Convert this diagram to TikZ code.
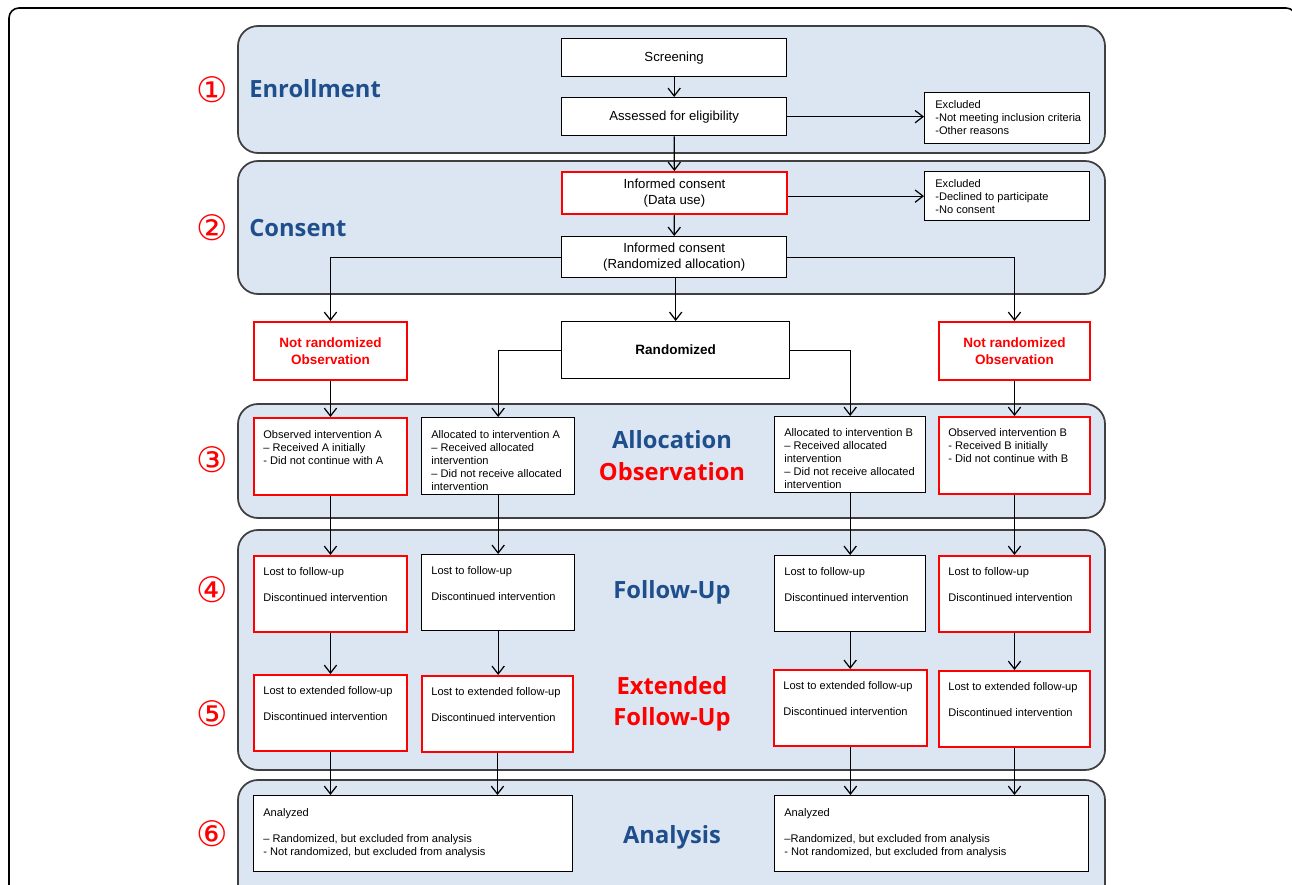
\documentclass[tikz,border=0pt]{standalone}
\usepackage{fontspec}
\setmainfont{Liberation Sans}
\newfontfamily\stagefont{Open Sans}
\newfontfamily\circfont{DejaVu Sans}
\usetikzlibrary{arrows.meta}
\definecolor{panelfill}{HTML}{DCE6F2}
\definecolor{paneldraw}{HTML}{404040}
\definecolor{stageblue}{HTML}{1F4E8C}
\definecolor{myred}{HTML}{FF0000}
\tikzset{
  panel/.style={draw=paneldraw, line width=1pt, fill=panelfill, rounded corners=0.4cm},
  bx/.style={draw=black, line width=0.75pt, fill=white, anchor=north west, inner sep=0pt},
  rbx/.style={bx, draw=myred, line width=1.1pt},
  wh/.style 2 args={minimum width=#1*0.02cm, minimum height=#2*0.02cm},
  ctext/.style={font=\fontsize{7.5}{9}\selectfont, align=center},
  btext/.style={font=\bfseries\fontsize{7.7}{9.4}\selectfont, align=center},
  small/.style={anchor=north west, inner sep=0pt, align=left, font=\fontsize{6.3}{7.4}\selectfont},
  arr/.style={line width=0.7pt, -{Straight Barb[length=4.5pt,width=7pt]}},
  stage/.style={font=\stagefont\bfseries\fontsize{13.5}{18}\selectfont, text=stageblue, anchor=base, inner sep=0pt},
  circ/.style={font=\circfont\fontsize{20}{20}\selectfont, text=myred, inner sep=0pt}
}
\begin{document}
\begin{tikzpicture}[x=0.02cm,y=-0.02cm]
\useasboundingbox (0,0) rectangle (1292,885);
\clip (0,0) rectangle (1292,885);
% outer frame
\draw[line width=0.9pt, rounded corners=0.2cm] (9,8) rectangle (1296,900);
% panels
\draw[panel] (238,26) rectangle (1105,153);
\draw[panel] (238,161) rectangle (1105,294);
\draw[panel] (238,404) rectangle (1105,518);
\draw[panel] (238,530) rectangle (1105,770);
\draw[panel] (238,780) rectangle (1105,905);
% circled numbers
\node[circ] (c1) at (212,90) {①};
\node[circ] (c2) at (212,228) {②};
\node[circ] (c3) at (212,460) {③};
\node[circ] (c4) at (212,590) {④};
\node[circ] (c5) at (212,714) {⑤};
\node[circ] (c6) at (212,834) {⑥};
% stage labels
\node[stage, anchor=base west] (sEn) at (249,98) {Enrollment};
\node[stage, anchor=base west] (sCo) at (249,237) {Consent};
\node[stage] (sAl) at (672,448) {Allocation};
\node[stage, text=myred] (sOb) at (672,480) {Observation};
\node[stage] (sFu) at (672,598) {Follow-Up};
\node[stage, text=myred] (sEx) at (672,694) {Extended};
\node[stage, text=myred] (sEf) at (672,725) {Follow-Up};
\node[stage] (sAn) at (672,843) {Analysis};
% top boxes
\node[bx, wh={225}{38}, ctext] (scr) at (561,38) {Screening};
\node[bx, wh={225}{38}, ctext] (ass) at (561,97) {Assessed for eligibility};
\node[bx, wh={165}{51}] (ex1) at (924,92) {};
\node[small] (ex1t) at (935,100) {Excluded\\-Not meeting inclusion criteria\\-Other reasons};
\node[rbx, wh={225}{42}, ctext] (icd) at (561,171) {Informed consent\\(Data use)};
\node[bx, wh={165}{49}] (ex2) at (924,171) {};
\node[small] (ex2t) at (935,179) {Excluded\\-Declined to participate\\-No consent};
\node[bx, wh={225}{41}, ctext] (ica) at (561,236) {Informed consent\\(Randomized allocation)};
% randomization row
\node[rbx, wh={153}{58}, btext, text=myred] (nrL) at (253,321) {Not randomized\\Observation};
\node[bx, wh={228}{57}, btext] (rnd) at (561,321) {Randomized};
\node[rbx, wh={151}{58}, btext, text=myred] (nrR) at (938,321) {Not randomized\\Observation};
% allocation row
\node[rbx, wh={153}{77}] (a1) at (253,417) {};
\node[small] (a1t) at (263,430) {Observed intervention A\\– Received A initially\\- Did not continue with A};
\node[bx, wh={153}{77}] (a2) at (421,417) {};
\node[small] (a2t) at (431,430) {Allocated to intervention A\\– Received allocated\\intervention\\– Did not receive allocated\\intervention};
\node[bx, wh={151}{76}] (a3) at (774,416) {};
\node[small] (a3t) at (784,428) {Allocated to intervention B\\– Received allocated\\intervention\\– Did not receive allocated\\intervention};
\node[rbx, wh={151}{77}] (a4) at (938,416) {};
\node[small] (a4t) at (948,428) {Observed intervention B\\- Received B initially\\- Did not continue with B};
% follow-up row
\node[rbx, wh={153}{76}] (f1) at (253,555) {};
\node[small] (f1t) at (263,567) {Lost to follow-up\\[7.4pt]Discontinued intervention};
\node[bx, wh={153}{76}] (f2) at (421,554) {};
\node[small] (f2t) at (431,566) {Lost to follow-up\\[7.4pt]Discontinued intervention};
\node[bx, wh={151}{76}] (f3) at (774,555) {};
\node[small] (f3t) at (784,567) {Lost to follow-up\\[7.4pt]Discontinued intervention};
\node[rbx, wh={151}{76}] (f4) at (938,555) {};
\node[small] (f4t) at (948,567) {Lost to follow-up\\[7.4pt]Discontinued intervention};
% extended follow-up row
\node[rbx, wh={153}{76}] (e1) at (253,674) {};
\node[small] (e1t) at (263,686) {Lost to extended follow-up\\[7.4pt]Discontinued intervention};
\node[rbx, wh={151}{76}] (e2) at (421,675) {};
\node[small] (e2t) at (431,687) {Lost to extended follow-up\\[7.4pt]Discontinued intervention};
\node[rbx, wh={153}{76}] (e3) at (773,669) {};
\node[small] (e3t) at (783,681) {Lost to extended follow-up\\[7.4pt]Discontinued intervention};
\node[rbx, wh={151}{76}] (e4) at (938,670) {};
\node[small] (e4t) at (948,682) {Lost to extended follow-up\\[7.4pt]Discontinued intervention};
% analysis row
\node[bx, wh={319}{76}] (n1) at (253,795) {};
\node[small] (n1t) at (263,808) {Analyzed\\[7.4pt]– Randomized, but excluded from analysis\\- Not randomized, but excluded from analysis};
\node[bx, wh={314}{76}] (n2) at (774,795) {};
\node[small] (n2t) at (784,808) {Analyzed\\[7.4pt]–Randomized, but excluded from analysis\\- Not randomized, but excluded from analysis};
% connectors
\draw[arr] (scr) -- (ass);
\draw[arr] (ass.east) -- (ass.east -| ex1.west);
\draw[arr] (ass) -- (icd);
\draw[arr] (icd.east |- ex2.west) -- (ex2.west);
\draw[arr] (icd) -- (ica);
\draw[arr] (ica.west) -| (nrL.north);
\draw[arr] (ica.south -| rnd.north) -- (rnd.north);
\draw[arr] (ica.east) -| (nrR.north);
\draw[arr] (rnd.west) -| (a2.north);
\draw[arr] (rnd.east) -| (a3.north);
\draw[arr] (nrL) -- (a1);
\draw[arr] (nrR) -- (a4);
\draw[arr] (a1) -- (f1);
\draw[arr] (a2) -- (f2);
\draw[arr] (a3) -- (f3);
\draw[arr] (a4) -- (f4);
\draw[arr] (f1) -- (f1.south |- e1.north);
\draw[arr] (f2) -- (f2.south |- e2.north);
\draw[arr] (f3) -- (f3.south |- e3.north);
\draw[arr] (f4) -- (f4.south |- e4.north);
\draw[arr] (e1.south) -- (e1.south |- n1.north);
\draw[arr] (e2.south) -- (e2.south |- n1.north);
\draw[arr] (e3.south) -- (e3.south |- n2.north);
\draw[arr] (e4.south) -- (e4.south |- n2.north);
\end{tikzpicture}
\end{document}
